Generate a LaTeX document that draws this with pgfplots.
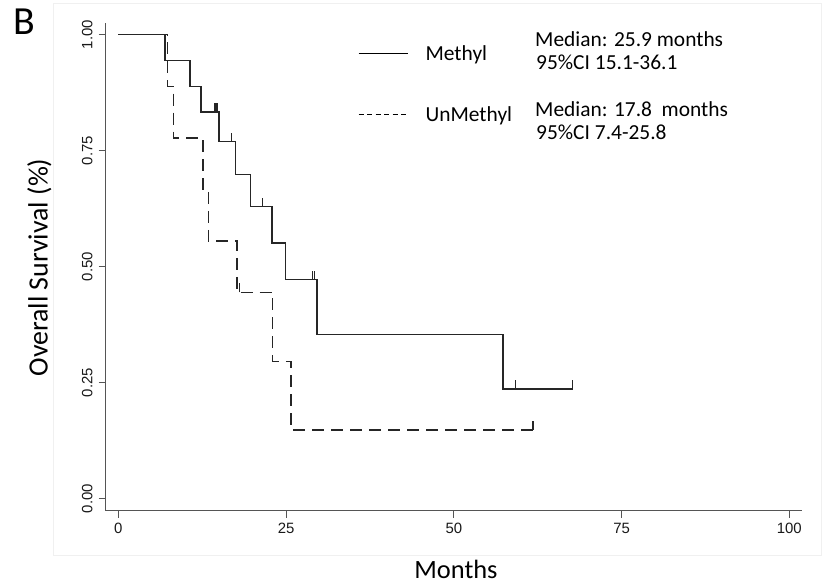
\documentclass[border=0pt]{standalone}
\usepackage{fontspec}
\setmainfont{Carlito}
\newfontfamily\helv{Liberation Sans}
\usepackage{pgfplots}
\pgfplotsset{compat=1.18}
\pgfdeclareplotmark{cens}{\pgfpathmoveto{\pgfpoint{0pt}{0pt}}\pgfpathlineto{\pgfpoint{0pt}{9bp}}\pgfusepathqstroke}
\definecolor{curve}{HTML}{262626}
\definecolor{axisgray}{HTML}{555555}
\begin{document}
\begin{tikzpicture}
\useasboundingbox (0,0) rectangle (825bp,585bp);
\draw[black!6, line width=0.6bp] (53bp,30bp) rectangle (821bp,582bp);
\begin{axis}[
  at={(105.7bp,74.3bp)}, anchor=south west,
  scale only axis, width=696bp, height=487.4bp,
  xmin=-1.89, xmax=101.85, ymin=-0.0259, ymax=1.0246,
  axis lines=left, axis line style={-, axisgray, line width=1.2bp},
  tick align=outside, major tick length=7bp,
  tick style={axisgray, line width=1.2bp},
  xtick={0,25,50,75,100}, ytick={0,0.25,0.5,0.75,1},
  yticklabels={0.00,0.25,0.50,0.75,1.00},
  /pgf/number format/assume math mode=true,
  tick label style={font=\fontsize{15}{17}\selectfont\helv, text=black!90},
  yticklabel style={rotate=90, anchor=south, inner sep=0pt},
  xticklabel style={anchor=north, inner sep=0pt},
  yticklabel shift=6bp, xticklabel shift=5.5bp,
  clip=false,
  legend style={at={(0.3625,0.9555)}, anchor=north west, draw=none, fill=none,
    inner sep=0pt, font=\fontsize{21.5}{25}\selectfont, row sep=45bp,
    nodes={inner sep=0pt},
    /tikz/every odd column/.append style={column sep=17.5bp}},
  legend cell align=left,
  legend image code/.code={\draw[#1] (0bp,0bp) -- (49bp,0bp);},
]
\addlegendimage{black, line width=0.9bp}
\addlegendentry{Methyl}
\addlegendimage{black, line width=0.9bp, dash pattern=on 5bp off 3.5bp}
\addlegendentry{UnMethyl}
% Methyl
\addplot[const plot, curve, line width=1.4bp, forget plot] coordinates {
 (0,1) (6.95,0.9444) (10.7,0.8889) (12.3,0.8333) (15.0,0.7692) (17.5,0.6993)
 (19.7,0.6294) (22.9,0.5507) (24.9,0.4720) (29.6,0.3540) (57.3,0.2360) (67.7,0.2360)};
\addplot[only marks, mark=cens, curve, line width=1.1bp, forget plot] coordinates {
 (14.4,0.8333) (14.7,0.8333) (16.9,0.7692) (21.5,0.6294) (28.9,0.4720) (29.2,0.4720)
 (59.2,0.2360) (67.7,0.2360)};
% UnMethyl
\addplot[const plot, curve, line width=1.4bp, dash pattern=on 12bp off 7bp, forget plot] coordinates {
 (0,1) (7.35,0.8889) (8.2,0.7778) (12.6,0.6667) (13.4,0.5556) (17.7,0.4444)
 (23.0,0.2963) (25.7,0.1481) (61.8,0.1481)};
\addplot[only marks, mark=cens, curve, line width=1.1bp, mark options={solid}, forget plot] coordinates {
 (18.0,0.4444) (61.8,0.1481)};
\end{axis}
\node[anchor=base west, font=\fontsize{40}{44}\selectfont, inner sep=0pt] at (13.8bp,550bp) {B};
\node[rotate=90, anchor=base, font=\fontsize{28}{32}\selectfont, inner sep=0pt] at (47.5bp,317.5bp) {Overall Survival (\%)};
\node[anchor=base, font=\fontsize{26.5}{30}\selectfont, inner sep=0pt] at (456bp,7bp) {Months};
\node[anchor=base west, font=\fontsize{21.5}{25}\selectfont, inner sep=0pt] at (535bp,538.3bp) {Median: 25.9 months};
\node[anchor=base west, font=\fontsize{21.5}{25}\selectfont, inner sep=0pt] at (536bp,515bp) {95\%CI 15.1-36.1};
\node[anchor=base west, font=\fontsize{21.5}{25}\selectfont, inner sep=0pt] at (535bp,468.3bp) {Median: 17.8\ \ months};
\node[anchor=base west, font=\fontsize{21.5}{25}\selectfont, inner sep=0pt] at (536bp,445bp) {95\%CI 7.4-25.8};
\end{tikzpicture}
\end{document}
